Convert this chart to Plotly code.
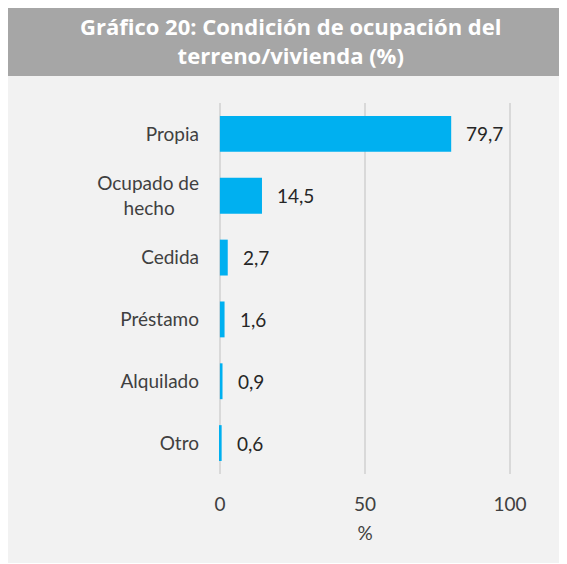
import plotly.graph_objects as go

categories = ["Propia", "Ocupado de hecho", "Cedida", "Préstamo", "Alquilado", "Otro"]
tick_labels = ["Propia", "Ocupado de<br>hecho&nbsp;&nbsp;&nbsp;&nbsp;&nbsp;", "Cedida", "Préstamo", "Alquilado", "Otro"]
values = [79.7, 14.5, 2.7, 1.6, 0.9, 0.6]
x_ticks = [0, 50, 100]
title_text = "Gráfico 20: Condición de ocupación del<br>terreno/vivienda (%)"
x_title = "%"

labels = [f"{v:.1f}".replace(".", ",") for v in values]

OFF = 8  # page body offset
W, H = 567 - OFF, 564 - OFF
X0, X100 = 220, 510
Y_TOP, Y_BOT = 103, 474
ppu = (X100 - X0) / 100.0
pad = 1.0
L = X0 - pad * ppu - OFF
R = (567 - OFF) - (X100 + pad * ppu - OFF)
T = Y_TOP - OFF
B = (564 - OFF) - (Y_BOT - OFF)
pw, ph = W - L - R, H - T - B

def px(x):
    return (x - OFF - L) / pw

def py(y):
    return (H - B - (y - OFF)) / ph

fig = go.Figure()
fig.add_trace(go.Bar(
    y=categories, x=values, orientation="h",
    marker=dict(color="#00b0f0", line=dict(width=0)),
    width=0.58, hoverinfo="skip",
))

for c, v, t in zip(categories, values, labels):
    fig.add_annotation(x=v, y=c, text=t, showarrow=False, xanchor="left",
                       xshift=13, font=dict(family="Lato", size=19, color="#262626"))

fig.add_shape(type="rect", xref="paper", yref="paper", x0=px(7), x1=px(570),
              y0=py(563), y1=py(76), fillcolor="#f2f2f2", line=dict(width=0), layer="below")
fig.add_shape(type="rect", xref="paper", yref="paper", x0=px(7), x1=px(570),
              y0=py(76), y1=py(6), fillcolor="#a6a6a6", line=dict(width=0), layer="below")

fig.add_annotation(xref="paper", yref="paper", x=px(291), y=py(41), text=title_text,
                   showarrow=False, xanchor="center", yanchor="middle",
                   font=dict(family="Open Sans", size=22, color="white", weight=700),
                   align="center")

fig.update_layout(
    width=W, height=H, margin=dict(l=L, r=R, t=T, b=B),
    paper_bgcolor="white", plot_bgcolor="rgba(0,0,0,0)",
    showlegend=False, bargap=0.42,
    font=dict(family="Lato", size=19, color="#404040"),
)
fig.update_xaxes(range=[-pad, 100 + pad], tickvals=x_ticks, showgrid=True, gridcolor="#d9d9d9",
                 gridwidth=1.5, zeroline=False, showline=False, ticks="",
                 ticklabelstandoff=17, title=dict(text=x_title, standoff=12,
                 font=dict(family="Lato", size=19, color="#404040")),
                 fixedrange=True)
fig.update_yaxes(autorange="reversed", showgrid=False, zeroline=False, showline=False,
                 ticks="", ticklabelstandoff=17, fixedrange=True,
                 tickmode="array", tickvals=categories, ticktext=tick_labels)

fig.write_html("out.html")
